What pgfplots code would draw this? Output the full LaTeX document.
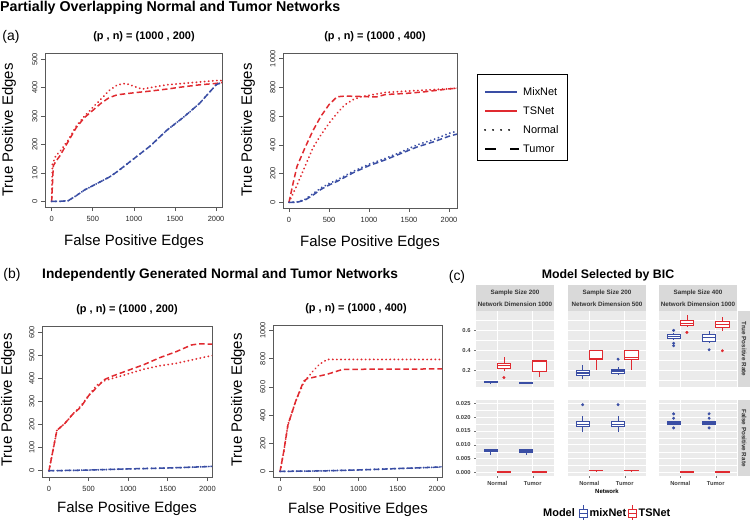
\documentclass[border=0pt]{standalone}
\usepackage{fontspec}
\setmainfont{Liberation Sans}
\usepackage{pgfplots}
\pgfplotsset{compat=1.18}
\usepgfplotslibrary{statistics}

\definecolor{rred}{RGB}{224,42,48}
\definecolor{rblue}{RGB}{58,78,164}
\definecolor{ggbg}{RGB}{235,235,235}
\definecolor{ggstrip}{RGB}{217,217,217}

\tikzset{
  tumor/.style={line width=1.5bp, dash pattern=on 5.5bp off 3bp},
  normal/.style={line width=2bp, dash pattern=on 0.1bp off 4bp, line cap=round},
}

\pgfplotsset{
  rpanel/.style={
    scale only axis, anchor=north west,
    axis line style={black!65, line width=0.6bp},
    tick align=outside, major tick length=4bp,
    tick style={black!65, line width=0.6bp},
    tick pos=left,
    xtick={0,500,1000,1500,2000},
    ticklabel style={font=\fontsize{7.5}{9}\selectfont, text=black!85},
    yticklabel style={rotate=90, anchor=south},
    xticklabel style={yshift=-2bp},
    /pgf/number format/assume math mode=true,
    /pgf/number format/1000 sep={},
  },
  ggpanel/.style={
    scale only axis, anchor=north west,
    width=78bp, height=76bp,
    xmin=0.4, xmax=2.6,
    axis background/.style={fill=ggbg},
    axis line style={draw=none},
    xmajorgrids, ymajorgrids, yminorgrids,
    major grid style={white, line width=0.6bp},
    minor grid style={white, line width=0.3bp},
    xtick={1,2},
    tick align=outside, major tick length=2bp, minor tick length=0bp,
    tick style={black!55, line width=0.4bp},
    tick pos=left,
    scaled y ticks=false,
    xticklabels={}, yticklabels={},
    ticklabel style={font=\fontsize{5.8}{6.5}\selectfont\bfseries, text=black!75},
    boxplot/draw direction=y,
    boxplot/box extend=0.375,
    boxplot/whisker extend=0,
    boxplot/every median/.style={line width=1.3bp},
  },
  tprrow/.style={ymin=0.03, ymax=0.795, ytick={0.2,0.4,0.6},
    minor ytick={0.1,0.3,0.5,0.7}, xtick style={draw=none}},
  fprrow/.style={ymin=-0.0013, ymax=0.0262,
    ytick={0,0.005,0.01,0.015,0.02,0.025},
    minor ytick={0.0025,0.0075,0.0125,0.0175,0.0225},
    xticklabels={Normal,Tumor}},
  inner/.style={ytick style={draw=none}},
}

% color, position, lower whisker, lower quartile, median, upper quartile, upper whisker
\newcommand{\gbox}[7]{%
  \addplot[#1, line width=0.7bp, fill=white, boxplot prepared={draw position=#2,
    lower whisker=#3, lower quartile=#4, median=#5,
    upper quartile=#6, upper whisker=#7}] coordinates {};}

\begin{document}
\begin{tikzpicture}
\path[use as bounding box] (0,0) rectangle (750bp,-520bp);

% ---------------- (a) left
\begin{axis}[rpanel, at={(45bp,-53bp)}, width=177bp, height=154bp,
  xmin=-81, xmax=2072, ymin=-20, ymax=522, ytick={0,100,...,500}]
\addplot[rred, normal] coordinates {(0,0) (10,130) (50,160) (100,175) (200,215)
  (300,265) (400,300) (500,330) (600,360) (700,390) (800,410) (900,415)
  (1000,405) (1100,395) (1200,400) (1400,410) (1600,415) (1800,420) (2000,425) (2080,425)};
\addplot[rred, tumor] coordinates {(0,0) (20,125) (50,140) (100,160) (200,210)
  (300,260) (400,295) (500,320) (600,345) (700,365) (800,375) (1000,382)
  (1200,388) (1400,395) (1600,403) (1800,410) (2000,415) (2080,418)};
\addplot[rblue, normal] coordinates {(0,0) (100,0) (200,2) (300,20) (400,40)
  (500,55) (600,70) (700,85) (800,105) (1000,150) (1200,195) (1400,250)
  (1600,295) (1800,345) (2000,410) (2080,420)};
\addplot[rblue, tumor] coordinates {(0,0) (100,0) (200,2) (300,20) (400,40)
  (500,55) (600,70) (700,85) (800,105) (1000,150) (1200,195) (1400,250)
  (1600,295) (1800,345) (2000,410) (2080,420)};
\end{axis}

% ---------------- (a) right
\begin{axis}[rpanel, at={(283bp,-53bp)}, width=174bp, height=155bp,
  xmin=-75, xmax=2100, ymin=-40, ymax=1040, ytick={0,200,...,1000}]
\addplot[rred, normal] coordinates {(0,0) (100,120) (200,250) (300,380) (400,470)
  (500,550) (600,620) (700,680) (800,715) (900,735) (1000,745) (1200,765)
  (1500,775) (1800,785) (2000,790) (2100,795)};
\addplot[rred, tumor] coordinates {(0,0) (50,130) (100,250) (200,380) (300,500)
  (400,600) (500,680) (600,735) (700,740) (1000,735) (1100,735) (1200,750)
  (1500,760) (1700,770) (2000,790) (2100,795)};
\addplot[rblue, normal] coordinates {(0,0) (100,2) (200,20) (300,60) (400,100)
  (500,130) (600,155) (700,185) (800,215) (1000,265) (1200,305) (1400,350)
  (1600,400) (1800,435) (2000,480) (2100,495)};
\addplot[rblue, tumor] coordinates {(0,0) (100,0) (200,15) (300,50) (400,90)
  (500,120) (600,145) (700,175) (800,205) (1000,255) (1200,295) (1400,340)
  (1600,385) (1800,420) (2000,460) (2100,475)};
\end{axis}

% ---------------- (b) left
\begin{axis}[rpanel, at={(42bp,-326bp)}, width=170bp, height=151bp,
  xmin=-88, xmax=2058, ymin=-27, ymax=627, ytick={0,100,...,600}]
\addplot[rred, normal] coordinates {(0,0) (100,175) (200,205) (300,245) (400,280)
  (500,325) (600,370) (700,390) (800,400) (1000,420) (1200,440) (1400,455)
  (1600,465) (1800,480) (2000,495) (2080,500)};
\addplot[rred, tumor] coordinates {(0,0) (100,175) (200,205) (300,245) (400,275)
  (500,325) (600,360) (700,395) (800,410) (1000,435) (1200,460) (1400,490)
  (1600,515) (1800,545) (1900,550) (2080,548)};
\addplot[rblue, normal] coordinates {(0,0) (500,3) (1000,8) (1500,12) (2000,18) (2080,20)};
\addplot[rblue, tumor] coordinates {(0,0) (500,3) (1000,8) (1500,12) (2000,18) (2080,20)};
\end{axis}

% ---------------- (b) right
\begin{axis}[rpanel, at={(273bp,-325bp)}, width=169bp, height=152bp,
  xmin=-90, xmax=2064, ymin=-40, ymax=1040, ytick={0,200,...,1000}]
\addplot[rred, normal] coordinates {(0,0) (50,150) (100,330) (200,500) (300,630)
  (400,700) (500,760) (600,795) (2080,795)};
\addplot[rred, tumor] coordinates {(0,0) (50,150) (100,330) (200,500) (300,640)
  (350,660) (400,665) (600,690) (800,725) (2080,728)};
\addplot[rblue, normal] coordinates {(0,0) (500,3) (1000,10) (1500,20) (2000,30) (2080,33)};
\addplot[rblue, tumor] coordinates {(0,0) (500,3) (1000,10) (1500,20) (2000,30) (2080,33)};
\end{axis}

% ---------------- (c) facets, row 1: true positive rate
\begin{axis}[ggpanel, tprrow, at={(476bp,-311bp)}, yticklabels={0.2,0.4,0.6}]
\gbox{rblue}{0.8125}{0.065}{0.075}{0.08}{0.087}{0.095}
\gbox{rred}{1.1875}{0.19}{0.215}{0.245}{0.27}{0.335}
\gbox{rblue}{1.8125}{0.065}{0.07}{0.075}{0.08}{0.085}
\gbox{rred}{2.1875}{0.13}{0.19}{0.285}{0.295}{0.30}
\addplot[only marks, mark=*, rred, mark size=1.3bp] coordinates {(1.1875,0.125)};
\end{axis}
\begin{axis}[ggpanel, tprrow, inner, at={(568bp,-311bp)}]
\gbox{rblue}{0.8125}{0.11}{0.15}{0.17}{0.2}{0.25}
\gbox{rred}{1.1875}{0.2}{0.31}{0.32}{0.395}{0.4}
\gbox{rblue}{1.8125}{0.15}{0.17}{0.19}{0.205}{0.23}
\gbox{rred}{2.1875}{0.2}{0.31}{0.33}{0.395}{0.4}
\addplot[only marks, mark=*, rblue, mark size=1.3bp] coordinates {(1.8125,0.31)};
\end{axis}
\begin{axis}[ggpanel, tprrow, inner, at={(659bp,-311bp)}]
\gbox{rblue}{0.8125}{0.5}{0.515}{0.535}{0.56}{0.57}
\gbox{rred}{1.1875}{0.63}{0.65}{0.67}{0.705}{0.755}
\gbox{rblue}{1.8125}{0.47}{0.49}{0.53}{0.565}{0.59}
\gbox{rred}{2.1875}{0.59}{0.627}{0.66}{0.686}{0.73}
\addplot[only marks, mark=*, rblue, mark size=1.3bp] coordinates {(0.8125,0.6) (0.8125,0.47) (0.8125,0.445) (1.8125,0.405)};
\addplot[only marks, mark=*, rred, mark size=1.3bp] coordinates {(1.1875,0.58) (2.1875,0.395)};
\end{axis}

% ---------------- (c) facets, row 2: false positive rate
\begin{axis}[ggpanel, fprrow, at={(476bp,-400bp)},
  yticklabels={0.000,0.005,0.010,0.015,0.020,0.025}]
\gbox{rblue}{0.8125}{0.0064}{0.0075}{0.0079}{0.0082}{0.0083}
\gbox{rred}{1.1875}{0.0001}{0.0002}{0.0002}{0.0003}{0.0004}
\gbox{rblue}{1.8125}{0.0062}{0.0073}{0.0078}{0.0082}{0.0083}
\gbox{rred}{2.1875}{0.0001}{0.0002}{0.0002}{0.0003}{0.0004}
\end{axis}
\begin{axis}[ggpanel, fprrow, inner, at={(568bp,-400bp)}]
\gbox{rblue}{0.8125}{0.0145}{0.0167}{0.0173}{0.0183}{0.0205}
\gbox{rred}{1.1875}{0.0004}{0.0006}{0.0007}{0.0008}{0.001}
\gbox{rblue}{1.8125}{0.0145}{0.0167}{0.0173}{0.0183}{0.0205}
\gbox{rred}{2.1875}{0.0004}{0.0006}{0.0007}{0.0008}{0.001}
\addplot[only marks, mark=*, rblue, mark size=1.3bp] coordinates {(0.8125,0.0245) (1.8125,0.0245)};
\end{axis}
\begin{axis}[ggpanel, fprrow, inner, at={(659bp,-400bp)}]
\gbox{rblue}{0.8125}{0.0172}{0.0175}{0.0179}{0.0183}{0.0186}
\gbox{rred}{1.1875}{0.0001}{0.0002}{0.0002}{0.0003}{0.0004}
\gbox{rblue}{1.8125}{0.0172}{0.0175}{0.0179}{0.0183}{0.0186}
\gbox{rred}{2.1875}{0.0001}{0.0002}{0.0002}{0.0003}{0.0004}
\addplot[only marks, mark=*, rblue, mark size=1.3bp] coordinates {(0.8125,0.0212) (0.8125,0.0196) (0.8125,0.0161)
  (1.8125,0.0212) (1.8125,0.0196) (1.8125,0.0161)};
\end{axis}

\begin{scope}[x=1bp, y=-1bp]
% titles and labels of (a) and (b)
\node[anchor=west, font=\fontsize{14.3}{16}\selectfont\bfseries, inner sep=0] at (0,8) {Partially Overlapping Normal and Tumor Networks};
\node[font=\fontsize{14}{16}\selectfont, inner sep=0] at (11,37) {(a)};
\node[font=\fontsize{11}{13}\selectfont\bfseries, inner sep=0] at (144,37) {(p , n) = (1000 , 200)};
\node[font=\fontsize{11}{13}\selectfont\bfseries, inner sep=0] at (375,37) {(p , n) = (1000 , 400)};
\node[font=\fontsize{15}{17}\selectfont, rotate=90, inner sep=0] at (9,130) {True Positive Edges};
\node[font=\fontsize{15}{17}\selectfont, rotate=90, inner sep=0] at (248,130) {True Positive Edges};
\node[font=\fontsize{15}{17}\selectfont, inner sep=0] at (134,242) {False Positive Edges};
\node[font=\fontsize{15}{17}\selectfont, inner sep=0] at (370,243) {False Positive Edges};

\node[font=\fontsize{14}{16}\selectfont, inner sep=0] at (12,275) {(b)};
\node[anchor=west, font=\fontsize{13.8}{15}\selectfont\bfseries, inner sep=0] at (42,275) {Independently Generated Normal and Tumor Networks};
\node[font=\fontsize{11}{13}\selectfont\bfseries, inner sep=0] at (127,310) {(p , n) = (1000 , 200)};
\node[font=\fontsize{11}{13}\selectfont\bfseries, inner sep=0] at (356,309) {(p , n) = (1000 , 400)};
\node[font=\fontsize{15}{17}\selectfont, rotate=90, inner sep=0] at (8,400) {True Positive Edges};
\node[font=\fontsize{15}{17}\selectfont, rotate=90, inner sep=0] at (238,400) {True Positive Edges};
\node[font=\fontsize{15}{17}\selectfont, inner sep=0] at (127,509) {False Positive Edges};
\node[font=\fontsize{15}{17}\selectfont, inner sep=0] at (358,510) {False Positive Edges};

% legend of (a) and (b)
\draw[black, line width=0.8bp] (477,74) rectangle (567,160);
\draw[rblue, line width=1.5bp] (485,92) -- (517,92);
\draw[rred, line width=1.5bp] (485,111) -- (517,111);
\draw[black, line width=2bp, line cap=round, dash pattern=on 0.1bp off 7.9bp] (485,130) -- (517,130);
\draw[black, line width=1.5bp, dash pattern=on 11bp off 14bp] (485,149) -- (519,149);
\foreach \y/\t in {92/MixNet, 111/TSNet, 130/Normal, 149/Tumor}
  \node[anchor=west, font=\fontsize{11}{13}\selectfont, inner sep=0] at (523,\y) {\t};

% (c) titles, strips and legend
\node[font=\fontsize{14}{16}\selectfont, inner sep=0] at (457,277) {(c)};
\node[font=\fontsize{12.4}{14}\selectfont\bfseries, inner sep=0] at (608,275) {Model Selected by BIC};
\foreach \x/\s/\d in {476/200/1000, 568/200/500, 659/400/1000} {
  \fill[ggstrip] (\x,285) rectangle (\x+78,311);
  \node[font=\fontsize{6.3}{7}\selectfont\bfseries, text=black!80, inner sep=0] at (\x+39,292.5) {Sample Size \s};
  \node[font=\fontsize{6.3}{7}\selectfont\bfseries, text=black!80, inner sep=0] at (\x+39,304.5) {Network Dimension \d};
}
\fill[ggstrip] (738,311) rectangle (750,387);
\fill[ggstrip] (738,400) rectangle (750,476);
\node[rotate=-90, font=\fontsize{6.3}{7}\selectfont\bfseries, text=black!80, inner sep=0] at (744,349) {True Positive Rate};
\node[rotate=-90, font=\fontsize{6.3}{7}\selectfont\bfseries, text=black!80, inner sep=0] at (744,438) {False Positive Rate};
\node[font=\fontsize{6}{7}\selectfont\bfseries, inner sep=0] at (607,491) {Network};

\node[anchor=west, font=\fontsize{11}{13}\selectfont\bfseries, inner sep=0] at (543,513) {Model};
\draw[rblue, line width=0.7bp] (579,509) rectangle (587,517) (579,513) -- (587,513) (583,505) -- (583,509) (583,517) -- (583,521);
\node[anchor=west, font=\fontsize{11}{13}\selectfont\bfseries, inner sep=0] at (589.5,513) {mixNet};
\draw[rred, line width=0.7bp] (628,509) rectangle (636,517) (628,513) -- (636,513) (632,505) -- (632,509) (632,517) -- (632,521);
\node[anchor=west, font=\fontsize{11}{13}\selectfont\bfseries, inner sep=0] at (638.5,513) {TSNet};
\end{scope}
\end{tikzpicture}
\end{document}
